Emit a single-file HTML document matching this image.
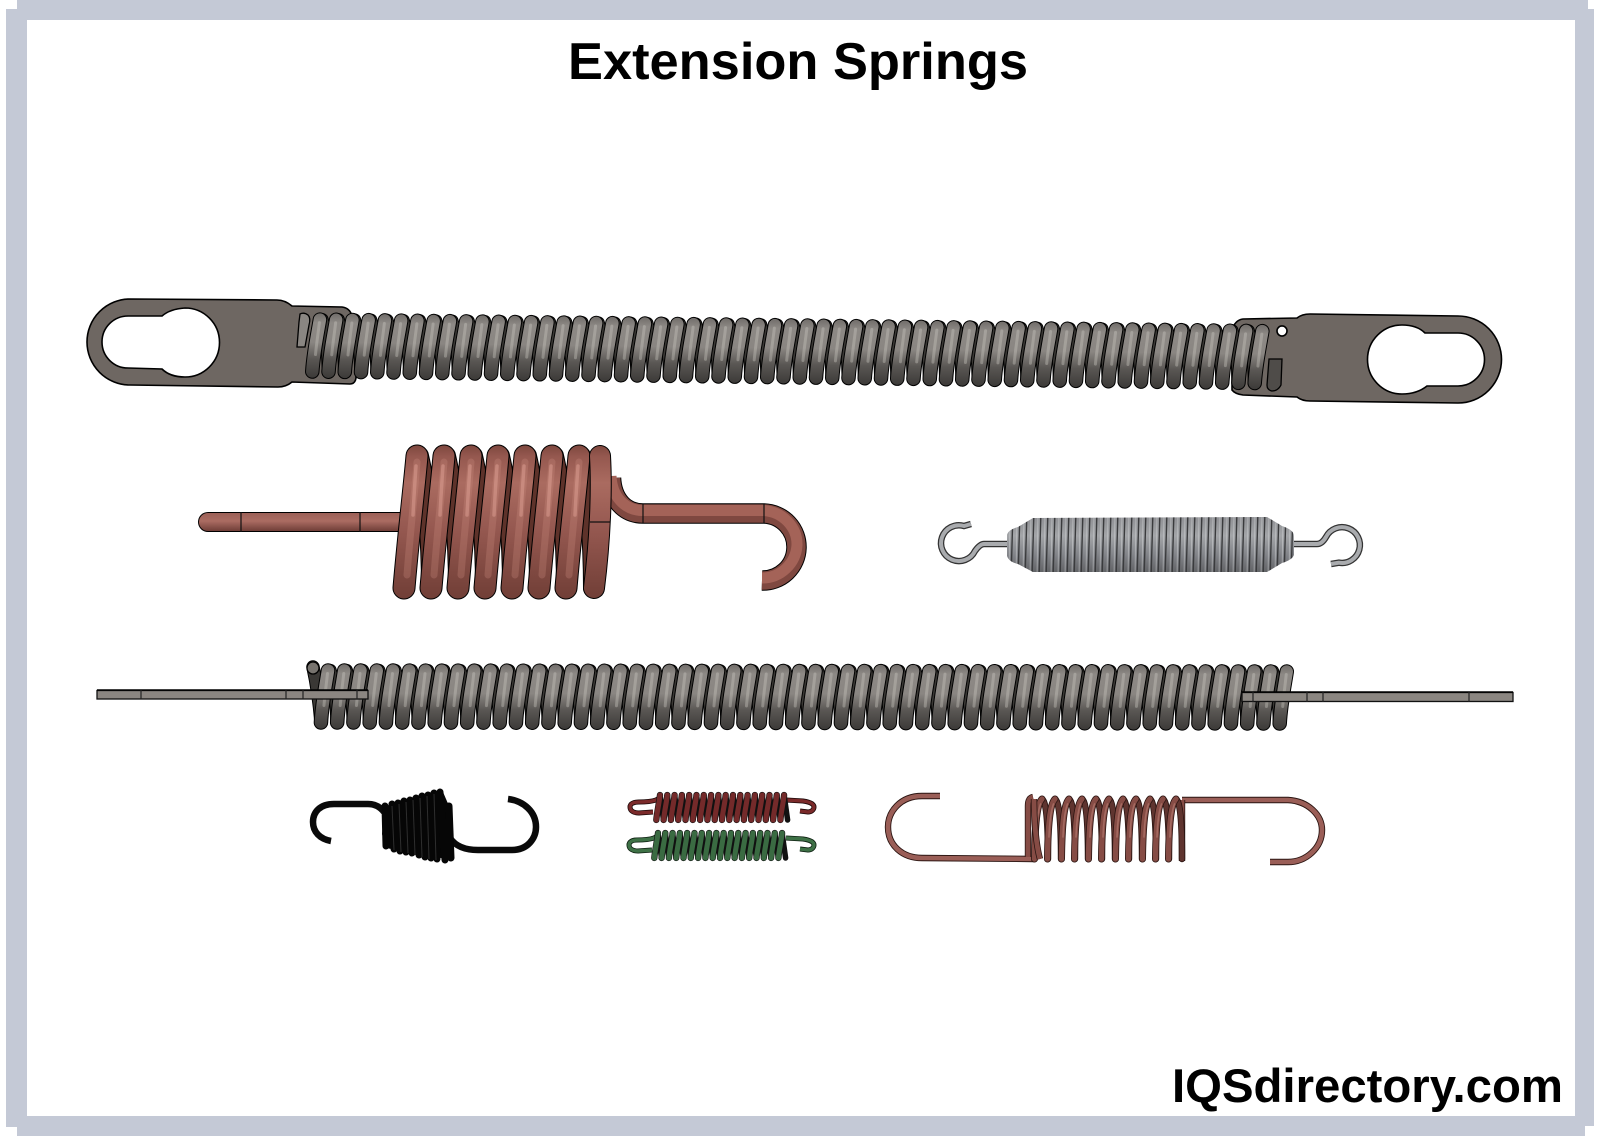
<!DOCTYPE html>
<html lang="en"><head><meta charset="utf-8"><title>Extension Springs</title>
<style>html,body{margin:0;padding:0;background:#fff}svg{display:block}</style></head>
<body>
<svg xmlns="http://www.w3.org/2000/svg" xmlns:xlink="http://www.w3.org/1999/xlink" width="1600" height="1146" viewBox="0 0 1600 1146">
<defs>
<linearGradient id="ga" gradientUnits="userSpaceOnUse" x1="0" y1="0" x2="0" y2="66">
<stop offset="0" stop-color="#6f6b68"/><stop offset=".15" stop-color="#8d8985"/><stop offset=".45" stop-color="#8a8682"/><stop offset=".7" stop-color="#5a5754"/><stop offset="1" stop-color="#3b3937"/></linearGradient>
<linearGradient id="gc" gradientUnits="userSpaceOnUse" x1="0" y1="444" x2="0" y2="600">
<stop offset="0" stop-color="#7c463d"/><stop offset=".08" stop-color="#95584f"/><stop offset=".25" stop-color="#aa6b60"/><stop offset=".55" stop-color="#955850"/><stop offset="1" stop-color="#703e36"/></linearGradient>
<linearGradient id="gr" gradientUnits="userSpaceOnUse" x1="0" y1="512" x2="0" y2="532">
<stop offset="0" stop-color="#9a5f56"/><stop offset=".45" stop-color="#ab6c62"/><stop offset="1" stop-color="#6a3a34"/></linearGradient>
<linearGradient id="gs" x1="0" y1="0" x2="0" y2="1">
<stop offset="0" stop-color="#8d8e92"/><stop offset=".35" stop-color="#a3a5a8"/><stop offset=".65" stop-color="#83858a"/><stop offset="1" stop-color="#5c5d60"/></linearGradient>
<pattern id="ps" patternUnits="userSpaceOnUse" width="7" height="70" x="1007" y="510">
<path d="M6 0 L4 70" stroke="#3a3b3d" stroke-width="1.4" fill="none"/>
<path d="M3 0 L2 70" stroke="#d0d2d4" stroke-width="1" fill="none" opacity=".5"/></pattern>
<clipPath id="cs"><path d="M1007 535 Q1008 530 1018 527 L1033 518 L1267 517 L1282 526 Q1294 530 1294 536 L1294 555 Q1292 560 1282 563 L1267 572 L1033 572 L1018 564 Q1009 562 1007 556Z"/></clipPath>

<g id="af" fill="none" stroke-linecap="round">
<path d="M0 7 C-2 20 -6 40 -7 59" stroke="#000" stroke-width="14.5"/>
<path d="M0 7 C-2 20 -6 40 -7 59" stroke="url(#ga)" stroke-width="12.5"/>
<path d="M-.5 10 C-1.5 20 -3 30 -4 42" stroke="#c9c5bf" stroke-width="3" opacity=".4"/>
</g>
<g id="a" fill="none" stroke-linecap="round">
<path d="M2 7 C6 20 9 40 9 59" stroke="#000" stroke-width="13.5"/>
<path d="M2 7 C6 20 9 40 9 59" stroke="#3a3835" stroke-width="11.5"/>
<use href="#af" xlink:href="#af"/>
</g>
<g id="a4"><use href="#a" xlink:href="#a"/><use href="#a" xlink:href="#a" x="16.25"/><use href="#a" xlink:href="#a" x="32.5"/><use href="#a" xlink:href="#a" x="48.75"/></g>
<g id="a16"><use href="#a4" xlink:href="#a4"/><use href="#a4" xlink:href="#a4" x="65"/><use href="#a4" xlink:href="#a4" x="130"/><use href="#a4" xlink:href="#a4" x="195"/></g>

<g id="s" fill="none" stroke-linecap="round">
<path d="M0 3 L3.5 28" stroke="#111" stroke-width="5.5"/>
<path d="M0 3 C-1 12 -3 20 -3.7 28" stroke="#111" stroke-width="6.3"/>
<path d="M0 3 C-1 12 -3 20 -3.7 28" stroke="currentColor" stroke-width="5.1"/>
</g>
<g id="s4"><use href="#s" xlink:href="#s"/><use href="#s" xlink:href="#s" x="7.3"/><use href="#s" xlink:href="#s" x="14.6"/><use href="#s" xlink:href="#s" x="21.9"/></g>
<g id="s18"><use href="#s4" xlink:href="#s4"/><use href="#s4" xlink:href="#s4" x="29.2"/><use href="#s4" xlink:href="#s4" x="58.4"/><use href="#s4" xlink:href="#s4" x="87.6"/><use href="#s" xlink:href="#s" x="116.8"/><use href="#s" xlink:href="#s" x="124.1"/></g>

<g id="t" fill="none" stroke-linecap="round">
<path d="M0 4 C4 6 6 25 6 64" stroke="#2b1512" stroke-width="6.4"/>
<path d="M0 4 C4 6 6 25 6 64" stroke="#5f342f" stroke-width="4.8"/>
<path d="M0 4 C-4 8 -7 22 -7.5 64" stroke="#2b1512" stroke-width="7"/>
<path d="M0 4 C-4 8 -7 22 -7.5 64" stroke="#864c45" stroke-width="5.4"/>
<path d="M-1.5 9 C-4 16 -5.5 28 -6 42" stroke="#ad7268" stroke-width="1.6" opacity=".8"/>
</g>
<g id="c" fill="none" stroke-linecap="round">
<path d="M2 456 C10 490 14 540 14 588" stroke="#000" stroke-width="20"/>
<path d="M2 456 C10 490 14 540 14 588" stroke="#5e322a" stroke-width="18"/>
<path d="M0 456 C-3 490 -9 540 -13 588" stroke="#000" stroke-width="23"/>
<path d="M0 456 C-3 490 -9 540 -13 588" stroke="url(#gc)" stroke-width="21"/>
<path d="M0 462 C-2 490 -7 535 -10 575" stroke="#c98a7e" stroke-width="7" opacity=".3"/>
<path d="M-1 466 C-2 480 -3 495 -4 515" stroke="#dd9f93" stroke-width="3.5" opacity=".5"/>
</g>
</defs>

<rect width="1600" height="1146" fill="#fff"/>
<!-- frame -->
<g fill="#c4c9d6">
<rect x="17" y="0" width="1571" height="20"/>
<rect x="6" y="9" width="21" height="1118"/>
<rect x="17" y="1116" width="1568" height="20"/>
<rect x="1575" y="9" width="19" height="1117"/>
</g>

<text x="568" y="79" font-family="'Liberation Sans',Arial,sans-serif" font-weight="700" font-size="52" textLength="460" lengthAdjust="spacingAndGlyphs" fill="#000">Extension Springs</text>
<text x="1172" y="1102" font-family="'Liberation Sans',Arial,sans-serif" font-weight="700" font-size="47" textLength="391" lengthAdjust="spacingAndGlyphs" fill="#000">IQSdirectory.com</text>

<!-- Spring 1 -->
<path fill-rule="evenodd" fill="#6e6762" stroke="#000" stroke-width="1.6" d="M130 299 L277 300 Q285 300 292 306 L342 307 Q350 308 352 316 L356 378 Q355 384 350 384 L292 382 Q286 387 278 387 L130 385 A43 43 0 0 1 130 299 Z M128 316 L162 316 Q170 309 185 308 A34.5 34.5 0 0 1 185 377 Q170 377 162 369 L128 368 A26 26 0 0 1 128 316Z"/>
<path fill-rule="evenodd" fill="#6e6762" stroke="#000" stroke-width="1.6" d="M1243 319 L1297 318 Q1302 314 1310 314 L1458 316 A43.5 43.5 0 0 1 1458 403 L1310 401 Q1302 401 1297 397 L1243 395 Q1235 394 1232 390 L1232 330 Q1235 320 1243 319 Z M1402 325 Q1417 325 1425 333 L1458 333 A26.5 26.5 0 0 1 1458 386 L1427 386 Q1417 394 1402 394 A34.5 34.5 0 0 1 1402 325 Z M1287 331 A5 5 0 1 0 1277 331 A5 5 0 1 0 1287 331Z"/>
<path d="M300 314 Q304 312 308 315 Q311 318 309 325 L305 347 L297 347 L299 322Z" fill="#8a8682" stroke="#000" stroke-width="1.3"/>
<g transform="translate(320 312.6) rotate(.7)">
<use href="#a16" xlink:href="#a16"/><use href="#a16" xlink:href="#a16" x="260"/><use href="#a16" xlink:href="#a16" x="520"/><use href="#a4" xlink:href="#a4" x="780"/><use href="#a4" xlink:href="#a4" x="845"/>
<use href="#a" xlink:href="#a" x="910"/><use href="#a" xlink:href="#a" x="926.25"/><use href="#af" xlink:href="#af" x="942.5"/>
</g>
<path d="M1269 359 L1282 359 L1281 385 Q1278 391 1272 391 Q1267 390 1267 385Z" fill="#4f4c49" stroke="#000" stroke-width="1.3"/>

<!-- Copper spring -->
<path d="M208 522 L405 522" stroke="#000" stroke-width="20" stroke-linecap="round" fill="none"/>
<path d="M208 522 L405 522" stroke="url(#gr)" stroke-width="18" stroke-linecap="round" fill="none"/>
<path d="M241 512 V532 M360 512 V532" stroke="#111" stroke-width="1.2"/>
<path d="M611 478 C612 500 625 513.5 643 513.5 L764 513.5 A33.5 33.5 0 0 1 762 580.5" fill="none" stroke="#000" stroke-width="20.5"/>
<path d="M611 478 C612 500 625 513.5 643 513.5 L764 513.5 A33.5 33.5 0 0 1 762 580.5" fill="none" stroke="#7f4840" stroke-width="18.5"/>
<path d="M611 476 C612 497 625 510.5 643 510.5 L764 510.5 A36 34 0 0 1 797 545 A35 35 0 0 1 762 578" fill="none" stroke="#a46358" stroke-width="11"/>
<path d="M643 504 V523 M764 504 V523" stroke="#111" stroke-width="1.2"/>
<use href="#c" xlink:href="#c" x="417"/><use href="#c" xlink:href="#c" x="444"/><use href="#c" xlink:href="#c" x="471"/><use href="#c" xlink:href="#c" x="498"/><use href="#c" xlink:href="#c" x="525"/><use href="#c" xlink:href="#c" x="552"/><use href="#c" xlink:href="#c" x="579"/>
<path d="M600 456 C602 490 600 540 594 588" fill="none" stroke="#000" stroke-width="22" stroke-linecap="round"/>
<path d="M600 456 C602 490 600 540 594 588" fill="none" stroke="url(#gc)" stroke-width="20" stroke-linecap="round"/>
<path d="M590 522 H610" stroke="#111" stroke-width="1.2"/>

<!-- Gray spring -->
<path d="M1010 544 L984 544 Q980 544 975 551 A17.9 17.9 0 1 1 964 526 L971 524" fill="none" stroke="#333" stroke-width="6.5"/>
<path d="M1010 544 L984 544 Q980 544 975 551 A17.9 17.9 0 1 1 964 526 L971 524" fill="none" stroke="#a9abae" stroke-width="4"/>
<path d="M1290 544 L1317 544 Q1322 544 1326 537 A17.9 17.9 0 1 1 1339 562.7 L1331 564" fill="none" stroke="#333" stroke-width="6.5"/>
<path d="M1290 544 L1317 544 Q1322 544 1326 537 A17.9 17.9 0 1 1 1339 562.7 L1331 564" fill="none" stroke="#a9abae" stroke-width="4"/>
<g clip-path="url(#cs)"><rect x="1005" y="515" width="292" height="60" fill="url(#gs)"/><rect x="1005" y="515" width="292" height="60" fill="url(#ps)"/></g>

<!-- Spring 3 -->
<path d="M313 667 C318 690 320 710 321 722" fill="none" stroke="#000" stroke-width="13.5" stroke-linecap="round"/>
<path d="M313 667 C318 690 320 710 321 722" fill="none" stroke="#3a3835" stroke-width="11.5" stroke-linecap="round"/>
<circle cx="313" cy="668" r="6" fill="#77736e" stroke="#000" stroke-width="1.3"/>
<g transform="translate(328 663.5) rotate(.06)">
<use href="#a16" xlink:href="#a16"/><use href="#a16" xlink:href="#a16" x="260"/><use href="#a16" xlink:href="#a16" x="520"/><use href="#a4" xlink:href="#a4" x="780"/><use href="#a4" xlink:href="#a4" x="845"/>
<use href="#a" xlink:href="#a" x="910"/><use href="#a" xlink:href="#a" x="926.25"/><use href="#a" xlink:href="#a" x="942.5"/><use href="#af" xlink:href="#af" x="958.75"/>
</g>
<rect x="97" y="690.5" width="271" height="8.5" fill="#8b8681" stroke="#111" stroke-width="1.3"/>
<path d="M97 690 H368" stroke="#000" stroke-width="1.6"/>
<path d="M141 690 V699 M286 690 V699 M303 690 V699 M357 690 V699" stroke="#222" stroke-width="1.2"/>
<rect x="1242" y="692.5" width="271" height="9" fill="#8b8681" stroke="#111" stroke-width="1.3"/>
<path d="M1242 692 H1513" stroke="#000" stroke-width="1.6"/>
<path d="M1253 692 V702 M1307 692 V702 M1323 692 V702 M1469 692 V702" stroke="#222" stroke-width="1.2"/>

<!-- Black spring -->
<path d="M384 812 Q378 804 368 804 L334 804 C320 804 313 812 313 822 C313 832 320 839 331 841" fill="none" stroke="#0a0a0a" stroke-width="6.5"/>
<path d="M450 838 Q458 850 478 850 L512 850 C528 850 536 838 536 827 C536 812 524 801 508 799" fill="none" stroke="#0a0a0a" stroke-width="6.5"/>
<path d="M385 806 L443 792 L449 806 L452 860 L386 848 L382 834 Z" fill="#060606"/>
<g stroke="#060606" stroke-width="7" stroke-linecap="round">
<path d="M385 806 L386 846 M392 804 L394 849 M398 803 L400 851 M404 801 L406 852 M410 800 L412 853 M416 798 L419 855 M422 796 L425 857 M428 795 L431 858 M434 793 L437 859 M440 792 L445 860 M449 806 L451 858"/>
</g>
<path d="M392 806 L394 850 M399 804 L401 852 M406 802 L408 853 M413 800 L415 855 M420 798 L422 857 M427 796 L429 859 M434 794 L436 860" stroke="#2e2e2e" stroke-width="1"/>

<!-- Red -->
<g transform="translate(6 0)">
<g fill="none" stroke="#1a0808" stroke-width="5">
<path d="M655 797 L650 800 Q644 802 633 802 C627 802 624 804 624 807 C624 811 628 813 633 813 L647 812"/>
<path d="M780 800 L797 801 C804 802 808 804 808 807 C808 810 805 812 802 812 L794 811"/>
</g>
<g fill="none" stroke="#7b2a2a" stroke-width="3.4">
<path d="M655 797 L650 800 Q644 802 633 802 C627 802 624 804 624 807 C624 811 628 813 633 813 L647 812"/>
<path d="M780 800 L797 801 C804 802 808 804 808 807 C808 810 805 812 802 812 L794 811"/>
</g>
<!-- Green -->
<g fill="none" stroke="#0d1f11" stroke-width="5">
<path d="M653 835 L648 838 Q642 840 631 840 C626 840 623 842 623 845 C623 849 627 851 632 851 L646 850"/>
<path d="M780 838 L797 839 C804 840 808 842 808 845 C808 848 805 850 802 850 L794 849"/>
</g>
<g fill="none" stroke="#3e7146" stroke-width="3.4">
<path d="M653 835 L648 838 Q642 840 631 840 C626 840 623 842 623 845 C623 849 627 851 632 851 L646 850"/>
<path d="M780 838 L797 839 C804 840 808 842 808 845 C808 848 805 850 802 850 L794 849"/>
</g>
</g>
<use href="#s18" xlink:href="#s18" x="660" y="792" color="#742a2a"/>
<use href="#s18" xlink:href="#s18" x="658" y="830" color="#3a6b42"/>

<!-- Thin copper spring -->
<g fill="none">
<path d="M940 796 L922 796 C900 796 888 812 888 827 C888 845 902 858 922 858 L1034 859" stroke="#2b1512" stroke-width="6.4"/>
<path d="M940 796 L922 796 C900 796 888 812 888 827 C888 845 902 858 922 858 L1034 859" stroke="#9a5e57" stroke-width="4.6"/>
<path d="M1182 800 L1288 800 C1308 801 1322 815 1322 830 C1322 848 1306 862 1288 862 L1270 862" stroke="#2b1512" stroke-width="6.4"/>
<path d="M1182 800 L1288 800 C1308 801 1322 815 1322 830 C1322 848 1306 862 1288 862 L1270 862" stroke="#9a5e57" stroke-width="4.6"/>
<path d="M1033 797 Q1028 798 1028 806 L1028 857" stroke="#2b1512" stroke-width="6.4"/>
<path d="M1033 797 Q1028 798 1028 806 L1028 857" stroke="#864c45" stroke-width="4.8"/>
<path d="M1182 800 L1182 861" stroke="#2b1512" stroke-width="6.4"/>
<path d="M1182 800 L1182 861" stroke="#864c45" stroke-width="4.8"/>
</g>
<use href="#t" xlink:href="#t" x="1042" y="795"/><use href="#t" xlink:href="#t" x="1055" y="795"/><use href="#t" xlink:href="#t" x="1069" y="795"/><use href="#t" xlink:href="#t" x="1082" y="795"/><use href="#t" xlink:href="#t" x="1096" y="795"/><use href="#t" xlink:href="#t" x="1109" y="795"/><use href="#t" xlink:href="#t" x="1123" y="795"/><use href="#t" xlink:href="#t" x="1136" y="795"/><use href="#t" xlink:href="#t" x="1150" y="795"/><use href="#t" xlink:href="#t" x="1163" y="795"/><use href="#t" xlink:href="#t" x="1176" y="795"/>
<path d="M1034 799 C1034 820 1036 845 1040 859" fill="none" stroke="#2b1512" stroke-width="6.4"/>
<path d="M1034 799 C1034 820 1036 845 1040 859" fill="none" stroke="#864c45" stroke-width="4.8"/>
</svg>
</body></html>
